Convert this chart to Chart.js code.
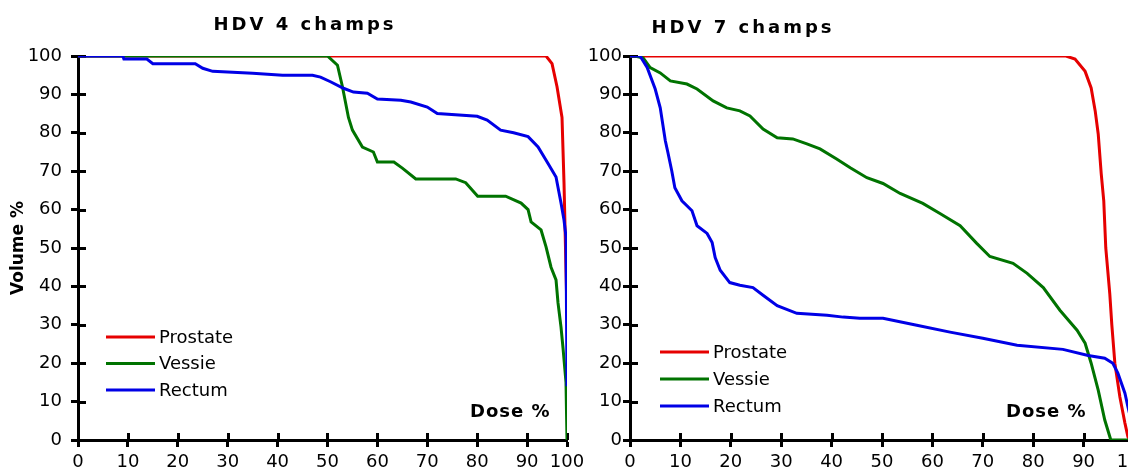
<!DOCTYPE html>
<html>
<head>
<meta charset="utf-8">
<script src="https://cdn.jsdelivr.net/npm/chart.js@4.4.1/dist/chart.umd.min.js"></script>
<style>
html, body { margin: 0; padding: 0; background: #fff; overflow: hidden; width: 1128px; height: 472px; }
#c4 { position: absolute; left: 0; top: 0; }
#c7 { position: absolute; left: 575px; top: 0; }
</style>
</head>
<body>
<canvas id="c4" width="600" height="472"></canvas>
<canvas id="c7" width="600" height="472"></canvas>
<script>
// series labels and colours
const organs = ['Prostate', 'Vessie', 'Rectum'];
const organColors = ['#e60000', '#007300', '#0000e6'];

// axis ticks
const volumeTicks = [0, 10, 20, 30, 40, 50, 60, 70, 80, 90, 100];
const doseLabels = ['0', '10', '20', '30', '40', '50', '60', '70', '80', '90', '100'];
// the left plot is cut at ~98 %, its "100" label sits on that edge
const doseTicks4 = [0, 10, 20, 30, 40, 50, 60, 70, 80, 90, 98];
const doseTicks7 = [0, 10, 20, 30, 40, 50, 60, 70, 80, 90, 100];

// HDV 4 champs
const prostate4Dose = [0, 93.8, 95, 96, 97, 97.4, 98];
const prostate4Vol  = [100, 100, 98, 92, 84, 67, 33];
const vessie4Dose = [0, 50, 52, 53, 54.2, 55, 57, 59.2, 60, 63.3, 65, 67.7, 75.7, 77.7, 80.1, 85.7, 88.8, 90.2, 90.8, 92.8, 93.8, 94.8, 95.8, 96.2, 96.8, 97.2, 97.8, 98];
const vessie4Vol  = [100, 100, 97.6, 92, 84, 80.7, 76.3, 75, 72.4, 72.4, 70.8, 68, 68, 67, 63.5, 63.5, 61.7, 60, 56.8, 54.7, 50.3, 45, 41.7, 35.7, 29.4, 24, 15, 0];
const rectum4Dose = [0, 9, 9.2, 13.8, 15, 23.5, 25, 27, 35, 41, 47, 48.6, 50.6, 53.2, 55.2, 58, 60, 64.7, 66.7, 70, 72, 80, 82, 84.7, 87.3, 90.2, 92.2, 94.2, 95.8, 96.8, 97.4, 97.8, 98];
const rectum4Vol  = [100, 100, 99.2, 99.2, 98, 98, 96.8, 96, 95.5, 95, 95, 94.5, 93.3, 91.6, 90.6, 90.3, 88.8, 88.5, 88, 86.7, 85, 84.3, 83.3, 80.7, 80, 79, 76.3, 72, 68.5, 61.7, 57.3, 52.9, 14];

// HDV 7 champs
const prostate7Dose = [0, 86.5, 88.3, 90.3, 91.5, 92.3, 92.9, 93.5, 94, 94.4, 95.2, 95.6, 96.2, 97.2, 98.2, 98.8, 99.2, 100];
const prostate7Vol  = [100, 100, 99.2, 96, 91.7, 85.7, 79.7, 69.3, 62.3, 50, 38, 30, 20, 11.2, 4.4, 0.8, 0, 0];
const vessie7Dose = [0, 1, 2.6, 4, 6, 8, 11.3, 13.3, 16.5, 19.2, 21.8, 23.8, 26.4, 29.2, 32.3, 35.1, 37.7, 41, 43.7, 47, 50.2, 53.6, 58.1, 61.5, 65.5, 68.8, 71.4, 76, 78.8, 82, 85.3, 88.7, 90.3, 91.5, 92.9, 94.2, 95.4, 100];
const vessie7Vol  = [100, 100, 99.5, 97, 95.6, 93.5, 92.7, 91.4, 88.3, 86.5, 85.7, 84.4, 81, 78.7, 78.4, 77.1, 75.8, 73.2, 70.9, 68.3, 66.8, 64.2, 61.6, 59, 55.8, 51.2, 47.8, 46, 43.4, 39.7, 33.8, 28.6, 25.2, 20, 13, 5.2, 0, 0];
const rectum7Dose = [0, 2, 3.4, 5, 6, 7, 7.5, 8.3, 8.9, 10.3, 12.3, 13.3, 15.3, 16.3, 16.9, 17.9, 19.8, 21.8, 24.4, 26.4, 29.2, 33.1, 39.1, 42.3, 45.6, 50.2, 56.9, 63.5, 70, 76.8, 85.9, 90.9, 94.2, 95.8, 96.8, 98.2, 98.8, 100];
const rectum7Vol  = [100, 100, 97, 91.4, 86.5, 78, 75, 70, 65.7, 62.3, 59.7, 55.8, 53.8, 51.4, 47.5, 44.2, 41, 40.3, 39.7, 37.7, 35, 33, 32.5, 32, 31.7, 31.7, 29.9, 28.1, 26.5, 24.7, 23.6, 22, 21.3, 20, 17.4, 12.2, 8.6, 2];

Chart.defaults.font.family = 'DejaVu Sans';
Chart.defaults.font.size = 18;
Chart.defaults.color = '#000';

function pts(xs, ys) {
  return xs.map((x, i) => ({ x: x, y: ys[i] }));
}

function sets(series) {
  return series.map((s, i) => ({
    label: organs[i],
    data: pts(s[0], s[1]),
    borderColor: organColors[i],
    borderWidth: 3,
    pointRadius: 0,
    tension: 0,
    order: 3 - i
  }));
}

// inner half of the crossing tick marks, titles, legend, "Dose %"
const decor = {
  id: 'decor',
  beforeDatasetsDraw(chart) {
    const ctx = chart.ctx, a = chart.chartArea;
    const xs = chart.scales.x, ys = chart.scales.y;
    ctx.save();
    ctx.strokeStyle = '#000';
    ctx.lineWidth = 3;
    ctx.beginPath();
    xs.ticks.forEach(t => {
      const p = Math.round(xs.getPixelForValue(t.value)) + 0.5;
      ctx.moveTo(p, a.bottom);
      ctx.lineTo(p, a.bottom - 7);
    });
    ys.ticks.forEach(t => {
      const p = Math.round(ys.getPixelForValue(t.value)) + 0.5;
      ctx.moveTo(a.left, p);
      ctx.lineTo(a.left + 8, p);
    });
    ctx.stroke();
    ctx.restore();
  },
  afterDraw(chart, args, o) {
    const ctx = chart.ctx;
    ctx.save();
    ctx.fillStyle = '#000';
    ctx.textBaseline = 'middle';
    ctx.font = 'bold 18px "DejaVu Sans"';
    ctx.letterSpacing = '3px';
    ctx.textAlign = 'center';
    ctx.fillText(o.title, o.titleX, o.titleY);
    ctx.letterSpacing = '1px';
    ctx.textAlign = 'left';
    ctx.fillText('Dose %', o.doseX, o.doseY);
    ctx.letterSpacing = '0px';
    ctx.font = '18px "DejaVu Sans"';
    chart.data.datasets.forEach((d, i) => {
      const y = o.legY + i * o.legStep;
      ctx.strokeStyle = d.borderColor;
      ctx.lineWidth = 3;
      ctx.beginPath();
      ctx.moveTo(o.legX, y);
      ctx.lineTo(o.legX + 49, y);
      ctx.stroke();
      ctx.fillText(d.label, o.legX + 53, y + 1);
    });
    ctx.restore();
  }
};

function makeChart(id, series, xMax, xTicks, yWidth, yPad, padRight, yTitle, deco) {
  return new Chart(document.getElementById(id), {
    type: 'line',
    data: { datasets: sets(series) },
    plugins: [decor],
    options: {
      responsive: false,
      animation: false,
      layout: { padding: { top: 56, right: padRight, left: 0, bottom: 0 } },
      plugins: { legend: { display: false }, tooltip: { enabled: false }, decor: deco },
      scales: {
        x: {
          type: 'linear', min: 0, max: xMax,
          afterBuildTicks: ax => { ax.ticks = xTicks.map(v => ({ value: v })); },
          afterFit: s => { s.height = 32; },
          ticks: { autoSkip: false, maxRotation: 0, padding: 5, callback: (v, i) => doseLabels[i] },
          grid: { drawOnChartArea: false, tickLength: 7, tickWidth: 3, tickColor: '#000' },
          border: { color: '#000', width: 3 }
        },
        y: {
          min: 0, max: 100,
          afterBuildTicks: ax => { ax.ticks = volumeTicks.map(v => ({ value: v })); },
          afterFit: s => { s.width = yWidth; },
          ticks: { padding: yPad },
          grid: { drawOnChartArea: false, tickLength: 7, tickWidth: 3, tickColor: '#000' },
          border: { color: '#000', width: 3 },
          title: { display: !!yTitle, text: yTitle, font: { weight: 'bold', size: 17 }, padding: { top: 8, bottom: 0 } }
        }
      }
    }
  });
}

makeChart('c4',
  [[prostate4Dose, prostate4Vol], [vessie4Dose, vessie4Vol], [rectum4Dose, rectum4Vol]],
  98, doseTicks4, 78, 9, 33, 'Volume %',
  { title: 'HDV 4 champs', titleX: 305, titleY: 25, doseX: 470, doseY: 412, legX: 106, legY: 337, legStep: 26.5 });

makeChart('c7',
  [[prostate7Dose, prostate7Vol], [vessie7Dose, vessie7Vol], [rectum7Dose, rectum7Vol]],
  100, doseTicks7, 55, 1, 41, '',
  { title: 'HDV 7 champs', titleX: 168, titleY: 28, doseX: 431, doseY: 412, legX: 85, legY: 352, legStep: 27 });
</script>
</body>
</html>
